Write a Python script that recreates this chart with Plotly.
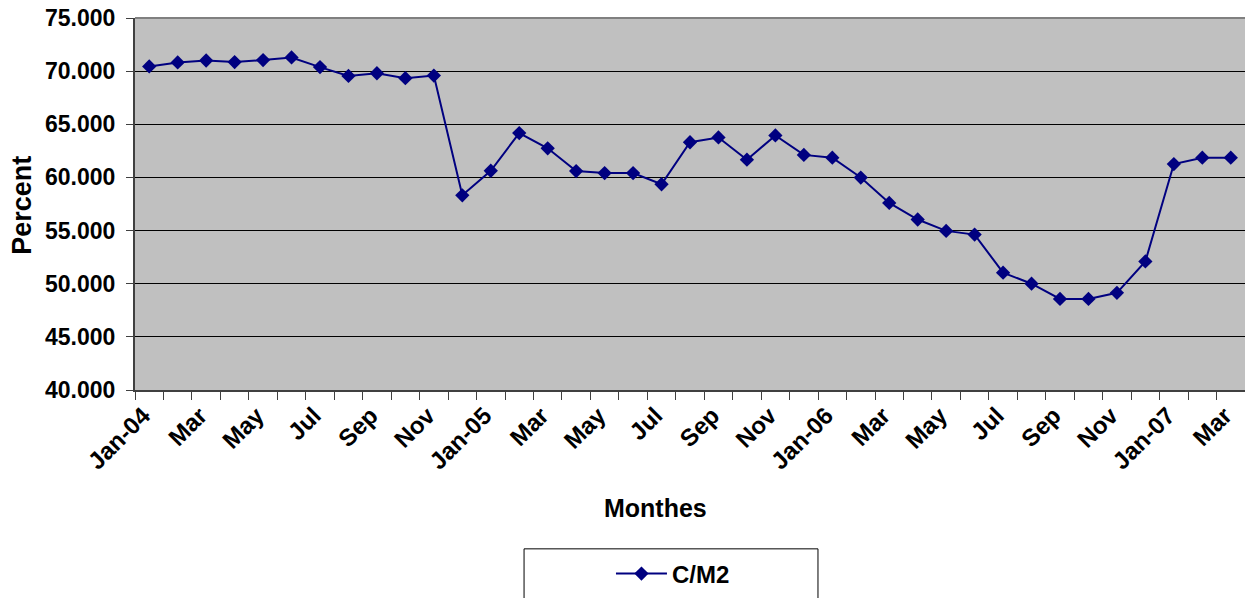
import plotly.graph_objects as go

# monthly C/M2 ratio, Jan-04 .. Mar-07
months = ["Jan-04", "Feb-04", "Mar-04", "Apr-04", "May-04", "Jun-04", "Jul-04", "Aug-04",
          "Sep-04", "Oct-04", "Nov-04", "Dec-04",
          "Jan-05", "Feb-05", "Mar-05", "Apr-05", "May-05", "Jun-05", "Jul-05", "Aug-05",
          "Sep-05", "Oct-05", "Nov-05", "Dec-05",
          "Jan-06", "Feb-06", "Mar-06", "Apr-06", "May-06", "Jun-06", "Jul-06", "Aug-06",
          "Sep-06", "Oct-06", "Nov-06", "Dec-06",
          "Jan-07", "Feb-07", "Mar-07"]
cm2 = [70.44, 70.82, 71.00, 70.85, 71.04, 71.29, 70.38, 69.55, 69.80, 69.34, 69.58, 58.32,
       60.63, 64.17, 62.74, 60.60, 60.41, 60.41, 59.36, 63.31, 63.76, 61.67, 63.95, 62.12,
       61.86, 59.99, 57.60, 56.04, 54.97, 54.62, 51.04, 50.00, 48.57, 48.57, 49.14, 52.10,
       61.26, 61.86, 61.86]
tick_labels = ["Jan-04", "Mar", "May", "Jul", "Sep", "Nov",
               "Jan-05", "Mar", "May", "Jul", "Sep", "Nov",
               "Jan-06", "Mar", "May", "Jul", "Sep", "Nov",
               "Jan-07", "Mar"]
y_ticks = [40, 45, 50, 55, 60, 65, 70, 75]

x = list(range(len(months)))
FONT = "Liberation Sans, Arial, sans-serif"

fig = go.Figure()
fig.add_trace(go.Scatter(
    x=x, y=cm2, name="C/M2", mode="lines+markers",
    customdata=months, hovertemplate="%{customdata}: %{y:.3f}<extra></extra>",
    line=dict(color="#000080", width=2),
    marker=dict(symbol="diamond", size=11, color="#000080"),
))

fig.update_layout(
    width=1245, height=598,
    margin=dict(l=135, r=0, t=18, b=208, autoexpand=False),
    paper_bgcolor="white", plot_bgcolor="#C0C0C0",
    font=dict(family=FONT, size=22, color="black", weight="bold"),
    showlegend=True,
    legend=dict(x=0.4288, y=-0.4946, xanchor="left", yanchor="middle",
                bgcolor="rgba(0,0,0,0)", borderwidth=0, itemwidth=51,
                font=dict(family=FONT, size=24, weight="bold")),
)
fig.update_xaxes(
    range=[-0.5, len(months) - 0.5], automargin=False,
    tickmode="array", tickvals=x[::2], ticktext=tick_labels,
    tickangle=-45, ticks="", showgrid=False, zeroline=False,
    ticklabelshift=-6,
    tickfont=dict(family=FONT, size=24, weight="bold"),
    minor=dict(ticks="outside", tick0=-0.5, dtick=1, ticklen=8, tickcolor="#404040", showgrid=False),
    showline=True, linecolor="#404040", linewidth=2,
)
fig.update_yaxes(
    range=[40, 75], automargin=False, tickmode="array", tickvals=y_ticks, tickformat=".3f",
    ticks="outside", ticklen=7, tickcolor="#404040", ticklabelstandoff=6,
    showgrid=True, gridcolor="black", gridwidth=1, zeroline=False,
    tickfont=dict(family=FONT, size=23, weight="bold"),
    showline=True, linecolor="#404040", linewidth=2,
)

# top border of the plot area
fig.add_shape(type="line", xref="paper", yref="paper", x0=0, x1=1, y0=1, y1=1,
              line=dict(color="#808080", width=2))
# legend box
fig.add_shape(type="rect", xref="paper", yref="paper", x0=0.3505, x1=0.6153, y0=-0.427, y1=-0.62,
              line=dict(color="black", width=1))

fig.add_annotation(text="Monthes", xref="paper", yref="paper", x=0.4685, y=-0.317,
                   xanchor="center", yanchor="middle",
                   showarrow=False, font=dict(family=FONT, size=25, weight="bold"))
fig.add_annotation(text="Percent", xref="paper", yref="paper", x=-0.1018, y=0.495, textangle=-90,
                   xanchor="center", yanchor="middle",
                   showarrow=False, font=dict(family=FONT, size=27, weight="bold"))

# page body has a default margin; drop it so the figure sits at the window origin
fig.write_html("out.html", config={"displayModeBar": False},
               post_script="document.body.style.margin='0';document.body.style.overflow='hidden';")
